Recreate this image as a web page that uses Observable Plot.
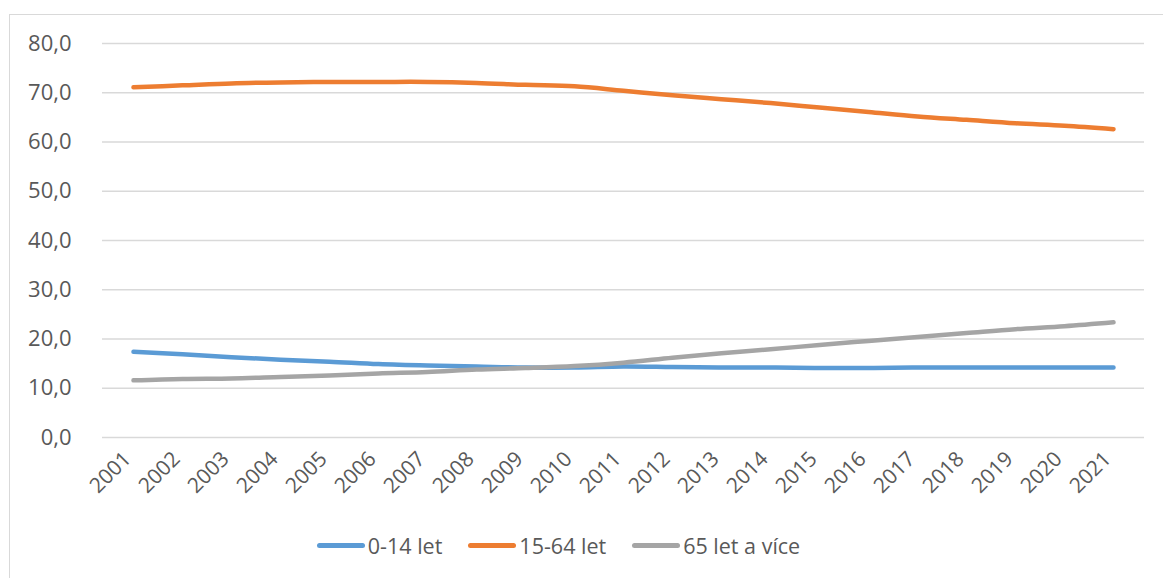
<!DOCTYPE html>
<html>
<head>
<meta charset="utf-8">
<script src="https://cdn.jsdelivr.net/npm/d3@7"></script>
<script src="https://cdn.jsdelivr.net/npm/@observablehq/plot@0.6"></script>
<style>
  html, body { margin: 0; padding: 0; background: #fff; }
  body { width: 1163px; height: 578px; position: relative; overflow: hidden; font-family: "Open Sans", sans-serif; }
  #frame { position: absolute; left: 9px; top: 14px; width: 1170px; height: 580px; border: 1.5px solid #d9d9d9; box-sizing: border-box; }
  #chart { position: absolute; left: 0; top: 0; }
  #legend { position: absolute; left: -23px; top: 531px; width: 1163px; display: flex; justify-content: center; font-size: 21.5px; color: #595959; }
  .item { display: flex; align-items: center; margin: 0 13px; }
  .sw { width: 48px; height: 5px; border-radius: 3px; margin-right: 3px; }
</style>
</head>
<body>
<div id="frame"></div>
<div id="chart"></div>
<div id="legend"></div>
<script>
const years = ["2001","2002","2003","2004","2005","2006","2007","2008","2009","2010","2011","2012","2013","2014","2015","2016","2017","2018","2019","2020","2021"];
const seriesNames = ["0-14 let", "15-64 let", "65 let a více"];
const colors = ["#5B9BD5", "#ED7D31", "#A5A5A5"];
const age0_14 = [17.4,16.9,16.3,15.8,15.4,14.9,14.6,14.4,14.2,14.2,14.4,14.3,14.2,14.2,14.1,14.1,14.2,14.2,14.2,14.2,14.2];
const age15_64 = [71.1,71.5,71.9,72.1,72.2,72.2,72.2,72.0,71.6,71.3,70.4,69.5,68.7,67.9,67.0,66.1,65.2,64.5,63.8,63.3,62.6];
const age65 = [11.6,11.9,12.0,12.3,12.6,13.0,13.3,13.8,14.1,14.5,15.2,16.2,17.1,17.9,18.8,19.6,20.4,21.2,22.0,22.6,23.4];
const yTicks = [0,10,20,30,40,50,60,70,80];

const seriesValues = [age0_14, age15_64, age65];
const data = [];
seriesNames.forEach((s, i) => years.forEach((y, j) => data.push({year: y, value: seriesValues[i][j], series: s})));

const fmt = d => d.toFixed(1).replace(".", ",");

const chart = Plot.plot({
  width: 1163,
  height: 525,
  marginLeft: 102,
  marginRight: 19,
  marginTop: 43,
  marginBottom: 88,
  style: {fontFamily: "'Open Sans', sans-serif", color: "#595959", background: "transparent"},
  x: {type: "point", domain: years, padding: 0.5},
  y: {domain: [0, 80]},
  color: {domain: seriesNames, range: colors},
  marks: [
    Plot.gridY(yTicks, {stroke: "#d9d9d9", strokeOpacity: 1, strokeWidth: 1.5}),
    Plot.axisY(yTicks, {tickFormat: fmt, tickSize: 0, tickPadding: 31, fontSize: 22, fill: "#595959", label: null}),
    Plot.axisX(years, {tickSize: 0, tickRotate: -45, tickPadding: 18, dx: -6, fontSize: 21, fill: "#595959", label: null}),
    Plot.line(data, {x: "year", y: "value", stroke: "series", z: "series", strokeWidth: 4.5, curve: "catmull-rom", strokeLinecap: "round", strokeLinejoin: "round"})
  ]
});
document.getElementById("chart").appendChild(chart);

const legend = document.getElementById("legend");
seriesNames.forEach((s, i) => {
  const it = document.createElement("div");
  it.className = "item";
  const sw = document.createElement("div");
  sw.className = "sw";
  sw.style.background = colors[i];
  const t = document.createElement("span");
  t.textContent = s;
  it.appendChild(sw); it.appendChild(t);
  legend.appendChild(it);
});
</script>
</body>
</html>
